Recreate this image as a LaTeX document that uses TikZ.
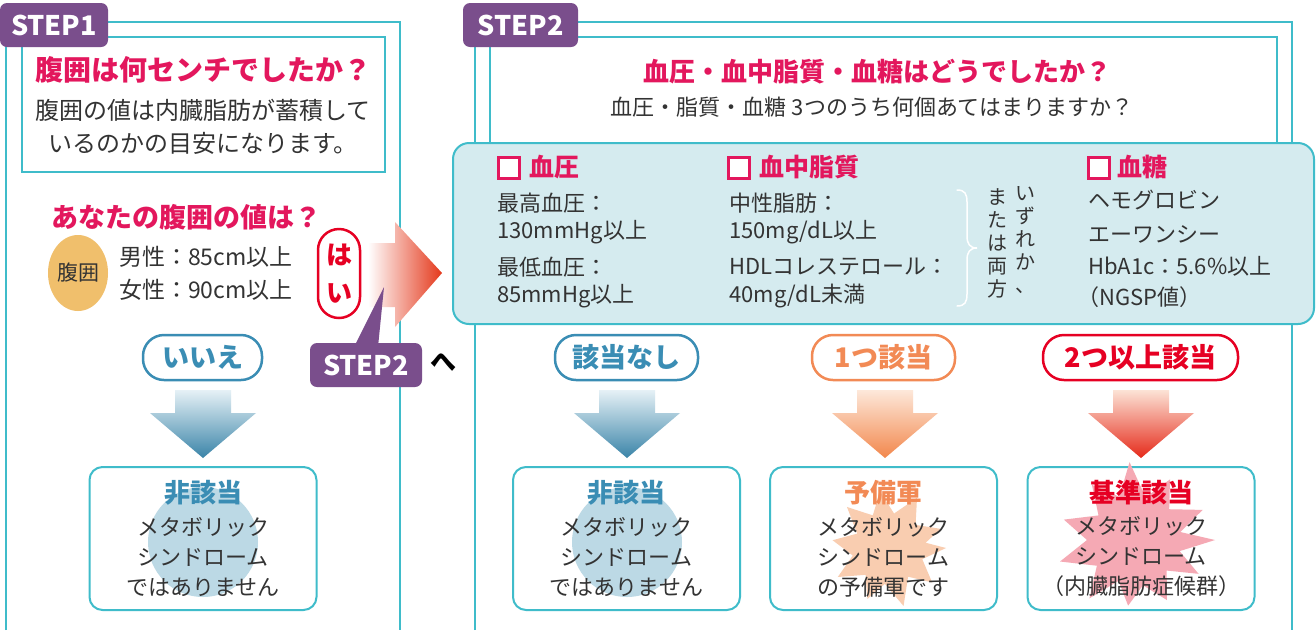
\documentclass[tikz,border=0pt]{standalone}
\usepackage{fontspec}
\setmainfont{Noto Sans CJK JP}
\usetikzlibrary{shapes.geometric}
\definecolor{tealc}{HTML}{3FBCCA}
\definecolor{purp}{HTML}{7A4E8C}
\definecolor{pinkc}{HTML}{E3175D}
\definecolor{redc}{HTML}{E60023}
\definecolor{darkc}{HTML}{333333}
\definecolor{boxfill}{HTML}{D5EBEF}
\definecolor{bluec}{HTML}{3A8DB4}
\definecolor{orangec}{HTML}{F28A55}
\definecolor{circblue}{HTML}{BCD9E5}
\definecolor{burstO}{HTML}{F9CDB0}
\definecolor{burstR}{HTML}{F5A9B4}
\definecolor{belly}{HTML}{F0BF6C}
\definecolor{arrmid}{HTML}{F49A70}
\definecolor{arrend}{HTML}{E4381B}
\definecolor{btop}{HTML}{E6F1F6}
\definecolor{bmid}{HTML}{8DBBD2}
\definecolor{bbot}{HTML}{3A84A8}
\definecolor{otop}{HTML}{FDE8DA}
\definecolor{omid}{HTML}{F8B48C}
\definecolor{obot}{HTML}{F2874C}
\definecolor{rtop}{HTML}{FCE3D6}
\definecolor{rmid}{HTML}{F29070}
\definecolor{rbot}{HTML}{E52A1A}
\newcommand\fs[2]{\fontsize{#1}{#2}\selectfont}
\newcommand\DArr[4]{\shade[top color=#2, middle color=#3, bottom color=#4]
  ({#1-28},390) -- ({#1+28},390) -- ({#1+28},413) -- ({#1+53},413) -- (#1,458)
  -- ({#1-53},413) -- ({#1-28},413) -- cycle;}
\begin{document}
\begin{tikzpicture}[x=1pt,y=-1pt,
  every node/.style={inner sep=0pt, text=darkc},
  frame/.style={draw=tealc, line width=2pt},
  tagbox/.style={fill=purp, rounded corners=7pt, minimum width=#1, minimum height=44pt, text=white, font=\bfseries\fs{27}{30}},
  ttl/.style={text=pinkc, font=\bfseries\fs{28}{30}},
  body/.style={font=\fs{24}{33}},
  pill/.style={draw=#1, text=#1, line width=2.5pt, fill=white, rounded corners=21pt, minimum height=45pt, font=\bfseries\fs{27}{30}},
  chk/.style={draw=pinkc, line width=2.5pt, fill=white, minimum size=21pt},
  head/.style={text=pinkc, font=\bfseries\fs{25}{30}, anchor=west},
  crit/.style={font=\fs{22}{30}, anchor=west},
  vert/.style={font=\fs{20}{23}, align=center, anchor=north},
  resbox/.style={draw=tealc, line width=2pt, fill=white, rounded corners=13pt, minimum width=227pt, minimum height=143pt},
  restitle/.style={text=#1, font=\bfseries\fs{26}{30}},
  restext/.style={font=\fs{22}{30}, align=center},
]
\useasboundingbox (0,0) rectangle (1316,630);
\fill[white] (0,0) rectangle (1316,630);

% ---------- STEP 1 ----------
\draw[frame] (6,630) -- (6,22) -- (400,22) -- (400,630);
\draw[frame] (22,37) rectangle (385,172);
\node[tagbox=108pt] (tag1) at (54,25) {STEP1};
\node[ttl] (q1) at (203,70) {腹囲は何センチでしたか？};
\node[body, align=center] (d1) at (203,127) {腹囲の値は内臓脂肪が蓄積して\\いるのかの目安になります。};
\node[ttl, anchor=west, font=\bfseries\fs{27}{30}] (q2) at (51,217) {あなたの腹囲の値は？};
\node[ellipse, fill=belly, minimum width=60pt, minimum height=76pt, font=\fs{21}{24}] (belly) at (78,273) {腹囲};
\node[crit, font=\fs{23}{30}] (male) at (119,257) {男性：85cm以上};
\node[crit, font=\fs{23}{30}] (female) at (119,290) {女性：90cm以上};

\node[pill=redc, minimum width=42pt, minimum height=89pt, align=center, font=\bfseries\fs{26}{38}] (hai) at (339,273.5) {は\\い};

\shade[left color=white, middle color=arrmid, right color=arrend]
  (368,243) -- (395,243) -- (395,222) -- (442,273) -- (395,327) -- (395,307) -- (368,307) -- cycle;

\fill[purp] (354,347) -- (384,287) -- (378,347) -- cycle;
\node[tagbox=112pt] (s2b) at (366,365) {STEP2};
\node[font=\bfseries\fs{26}{30}, text=black] (he) at (443,362) {へ};

\node[pill=bluec, minimum width=119pt] (no) at (202.5,357.5) {いいえ};
\DArr{203}{btop}{bmid}{bbot}
\node[resbox] (r0) at (203,538.5) {};
\fill[circblue] (203,542) circle[radius=55pt];
\node[restitle=bluec] (r0t) at (203,493) {非該当};
\node[restext] (r0b) at (203,557) {メタボリック\\シンドローム\\ではありません};

% ---------- STEP 2 ----------
\draw[frame] (475,630) -- (475,22) -- (1292,22) -- (1292,630);
\draw[frame] (490,37) rectangle (1277,150);
\node[tagbox=115pt] (tag2) at (520.5,25) {STEP2};
\node[ttl, font=\bfseries\fs{26}{30}] (q3) at (877,72) {血圧・血中脂質・血糖はどうでしたか？};
\node[font=\fs{22}{30}] (d3) at (872,107) {血圧・脂質・血糖 3つのうち何個あてはまりますか？};

\node[draw=tealc, fill=boxfill, line width=2pt, rounded corners=16pt, minimum width=861pt, minimum height=181pt] (crit) at (883.5,233.5) {};

\node[chk] (cb1) at (509,168) {};
\node[head] (h1) at (529,167) {血圧};
\node[crit] (c11) at (497,203) {最高血圧：};
\node[crit] (c12) at (497,232) {130mmHg以上};
\node[crit] (c13) at (497,267) {最低血圧：};
\node[crit] (c14) at (497,296) {85mmHg以上};

\node[chk] (cb2) at (739,168) {};
\node[head] (h2) at (759,167) {血中脂質};
\node[crit] (c21) at (729,203) {中性脂肪：};
\node[crit] (c22) at (729,232) {150mg/dL以上};
\node[crit] (c23) at (729,267) {HDLコレステロール：};
\node[crit] (c24) at (729,296) {40mg/dL未満};

\draw[white, line width=1.5pt, line cap=round]
  (957,190) .. controls (965,190) and (967,194) .. (967,202) -- (967,236)
  .. controls (967,244) and (970,248) .. (977,248)
  .. controls (970,248) and (967,252) .. (967,260) -- (967,294)
  .. controls (967,302) and (965,306) .. (957,306);
\node[vert] (v1) at (1025,186) {い\\ず\\れ\\か\\、};
\node[vert] (v2) at (997,188) {ま\\た\\は\\両\\方};

\node[chk] (cb3) at (1099,168) {};
\node[head] (h3) at (1117,167) {血糖};
\node[crit] (c31) at (1088,200) {ヘモグロビン};
\node[crit] (c32) at (1088,234) {エーワンシー};
\node[crit] (c33) at (1088,266) {HbA1c：5.6\%以上};
\node[crit] (c34) at (1077,297) {（NGSP値）};

\node[pill=bluec, minimum width=143pt] (p0) at (626.5,357.5) {該当なし};
\node[pill=orangec, minimum width=143pt] (p1) at (883.5,357.5) {1つ該当};
\node[pill=redc, minimum width=195pt] (p2) at (1140.5,357.5) {2つ以上該当};

\DArr{627}{btop}{bmid}{bbot}
\DArr{885}{otop}{omid}{obot}
\DArr{1141}{rtop}{rmid}{rbot}

\node[resbox] (r1) at (626.5,538.5) {};
\fill[circblue] (627,542) circle[radius=55pt];
\node[restitle=bluec] (r1t) at (626.5,493) {非該当};
\node[restext] (r1b) at (626.5,557) {メタボリック\\シンドローム\\ではありません};

\node[resbox] (r2) at (883.5,538.5) {};
\begin{scope}[shift={(888,548)}]
\fill[burstO] plot coordinates {(0:58) (18:36) (38:56) (55:35) (75:60) (95:36) (112:55) (130:35) (150:58) (168:36) (188:56) (205:34) (225:58) (245:36) (262:57) (280:35) (300:58) (320:36) (340:56) (352:38)} -- cycle;
\end{scope}
\node[restitle=orangec] (r2t) at (883.5,493) {予備軍};
\node[restext] (r2b) at (883.5,557) {メタボリック\\シンドローム\\の予備軍です};

\node[resbox] (r3) at (1141,538.5) {};
\begin{scope}[shift={(1135,540)}]
\fill[burstR] plot coordinates {(0:80) (14:46) (28:72) (44:44) (62:68) (80:46) (96:66) (112:44) (128:74) (146:46) (164:78) (180:48) (196:74) (214:44) (232:70) (250:46) (266:78) (284:44) (300:70) (318:46) (336:74) (350:46)} -- cycle;
\end{scope}
\node[restitle=redc] (r3t) at (1141,493) {基準該当};
\node[restext] (r3b) at (1141,557) {メタボリック\\シンドローム\\（内臓脂肪症候群）};
\end{tikzpicture}
\end{document}
